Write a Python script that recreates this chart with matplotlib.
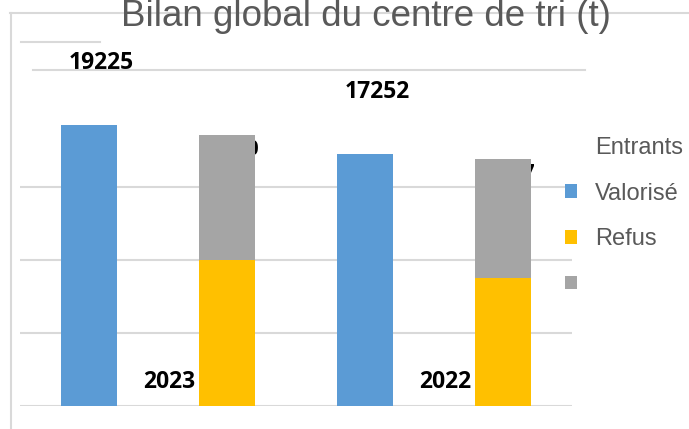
import matplotlib
matplotlib.use("Agg")
import matplotlib.pyplot as plt
from matplotlib.patches import Rectangle
from matplotlib.lines import Line2D
from matplotlib.transforms import blended_transform_factory, offset_copy

# ---- data ----
years = ["2023", "2022"]
entrants = [19225, 17252]
valorise = [10030, 8790]
refus = [8530, 8127]
legend_labels = ["Entrants", "Valorisé", "Refus", ""]
title = "Bilan global du centre de tri (t)"

c_blue = "#5B9BD5"
c_yellow = "#FFC000"
c_gray = "#A5A5A5"
c_grid = "#D9D9D9"
c_text = "#595959"

W, H = 689, 429
fig = plt.figure(figsize=(W / 100, H / 100), dpi=100)
ax = fig.add_axes([20 / W, 1 - 406 / H, (572 - 20) / W, (406 - 41) / H])

n = len(years)
x_blue = [2 * i for i in range(n)]
x_stack = [2 * i + 1 for i in range(n)]
bw = 56 / 138

ax.bar(x_blue, entrants, width=bw, color=c_blue, zorder=2)
ax.bar(x_stack, valorise, width=bw, color=c_yellow, zorder=2)
ax.bar(x_stack, refus, width=bw, bottom=valorise, color=c_gray, zorder=2)

ax.set_xlim(-0.5, 2 * n - 0.5)
ax.set_ylim(0, 25000)
ax.set_yticks([0, 5000, 10000, 15000])
ax.set_xticks([])
ax.yaxis.grid(True, color=c_grid, lw=1.5, zorder=0.5)
ax.set_axisbelow(True)
ax.tick_params(left=False, labelleft=False, bottom=False)
for s in ax.spines.values():
    s.set_visible(False)
ax.patch.set_alpha(0)

lab_font = dict(family=["Open Sans", "DejaVu Sans"], weight="bold", size=16.5, color="black")
hid_font = dict(lab_font, size=15)

# labels of Entrants bars
for xb, v in zip(x_blue, entrants):
    tr = offset_copy(ax.transData, fig=fig, x=0, y=62 * 0.72, units="points")
    ax.text(xb + 0.09, v, str(v), transform=tr, ha="center", va="center", zorder=3, **lab_font)

# labels of stacked totals (hidden behind bars)
for xs, a, b in zip(x_stack, valorise, refus):
    tot = a + b
    tr = offset_copy(ax.transData, fig=fig, x=2.5 * 0.72, y=-14 * 0.72, units="points")
    ax.text(xs, tot, str(tot), transform=tr, ha="center", va="center", zorder=1, **hid_font)

# category labels
btr = blended_transform_factory(ax.transData, ax.transAxes)
for i, yr in enumerate(years):
    ax.text(2 * i + 0.5 + 0.085, 24 / 365, yr, transform=btr, ha="center", va="center", zorder=1, **lab_font)

# chart border / artefact lines
def fline(x0, x1, y0, y1):
    fig.add_artist(Line2D([x0 / W, x1 / W], [1 - y0 / H, 1 - y1 / H], color=c_grid, lw=1.5, zorder=0.5))

fline(10, 689, 13, 13)
fline(11, 11, 13, 429)
fline(21, 100, 42, 42)
fline(33, 585, 70, 70)

# title
fig.text(366 / W, 1 - 26 / H, title, ha="center", va="baseline",
         family=["Liberation Sans", "DejaVu Sans"], size=26.5, color=c_text, zorder=3)

# legend
handles = [
    Rectangle((0, 0), 1, 1, facecolor="none", edgecolor="none"),
    Rectangle((0, 0), 1, 1, facecolor=c_blue),
    Rectangle((0, 0), 1, 1, facecolor=c_yellow),
    Rectangle((0, 0), 1, 1, facecolor=c_gray),
]
leg = fig.legend(handles, legend_labels, loc="upper left",
                 bbox_to_anchor=(565 / W, 1 - 137 / H), frameon=False,
                 borderaxespad=0, borderpad=0,
                 handlelength=0.51, handleheight=0.51, handletextpad=0.76,
                 labelspacing=1.0,
                 prop=dict(family=["Liberation Sans", "DejaVu Sans"], size=17))
for t in leg.get_texts():
    t.set_color(c_text)

fig.savefig("out.png", dpi=100)
